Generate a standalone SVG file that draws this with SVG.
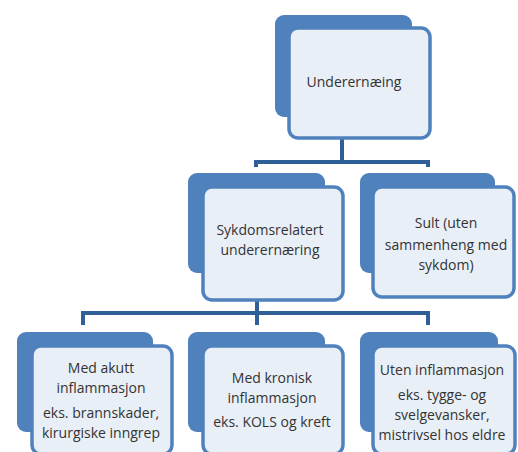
<svg xmlns="http://www.w3.org/2000/svg" width="518" height="452" viewBox="0 0 518 452">
<style>
.back{fill:#4F81BD;}
.front{fill:#E9EFF7;stroke:#4F81BD;stroke-width:3.5;}
.t{font-family:"Open Sans","Liberation Sans",sans-serif;font-size:14px;fill:#333;text-anchor:middle;}
.c{fill:none;stroke:#2F5F97;stroke-width:4;}
</style>
<rect width="518" height="452" fill="#fff"/>
<g id="connectors">
<path class="c" d="M342 138 V162 M256 167 V162 H428 V167"/>
<path class="c" d="M257 300 V313 M83 325 V313 H428 V325 M257 313 V325"/>
</g>
<g id="n-top">
<rect class="back" x="275" y="15" width="137" height="102" rx="9"/>
<rect class="front" x="289" y="28" width="141" height="110" rx="9"/>
<text class="t" x="354" y="87">Underernæing</text>
</g>
<g id="n-syk">
<rect class="back" x="188" y="173" width="137" height="100" rx="9"/>
<rect class="front" x="203" y="187" width="140" height="113" rx="9"/>
<text class="t" x="270" y="235">Sykdomsrelatert</text>
<text class="t" x="270" y="255">underernæring</text>
</g>
<g id="n-sult">
<rect class="back" x="360" y="173" width="135" height="100" rx="9"/>
<rect class="front" x="373" y="187" width="141" height="110" rx="9"/>
<text class="t" x="446" y="228">Sult (uten</text>
<text class="t" x="446" y="250">sammenheng med</text>
<text class="t" x="446" y="270">sykdom)</text>
</g>
<g id="n-akutt">
<rect class="back" x="17" y="332" width="136" height="100" rx="9"/>
<rect class="front" x="32" y="346" width="140" height="108" rx="9"/>
<text class="t" x="101" y="373">Med akutt</text>
<text class="t" x="101" y="393">inflammasjon</text>
<text class="t" x="101" y="418">eks. brannskader,</text>
<text class="t" x="101" y="438">kirurgiske inngrep</text>
</g>
<g id="n-kronisk">
<rect class="back" x="188" y="332" width="137" height="100" rx="9"/>
<rect class="front" x="203" y="346" width="140" height="108" rx="9"/>
<text class="t" x="272" y="383">Med kronisk</text>
<text class="t" x="272" y="403">inflammasjon</text>
<text class="t" x="272" y="427">eks. KOLS og kreft</text>
</g>
<g id="n-uten">
<rect class="back" x="360" y="332" width="138" height="100" rx="9"/>
<rect class="front" x="373" y="346" width="142" height="108" rx="9"/>
<text class="t" x="442" y="375">Uten inflammasjon</text>
<text class="t" x="442" y="400">eks. tygge- og</text>
<text class="t" x="442" y="420">svelgevansker,</text>
<text class="t" x="442" y="440">mistrivsel hos eldre</text>
</g>
</svg>
